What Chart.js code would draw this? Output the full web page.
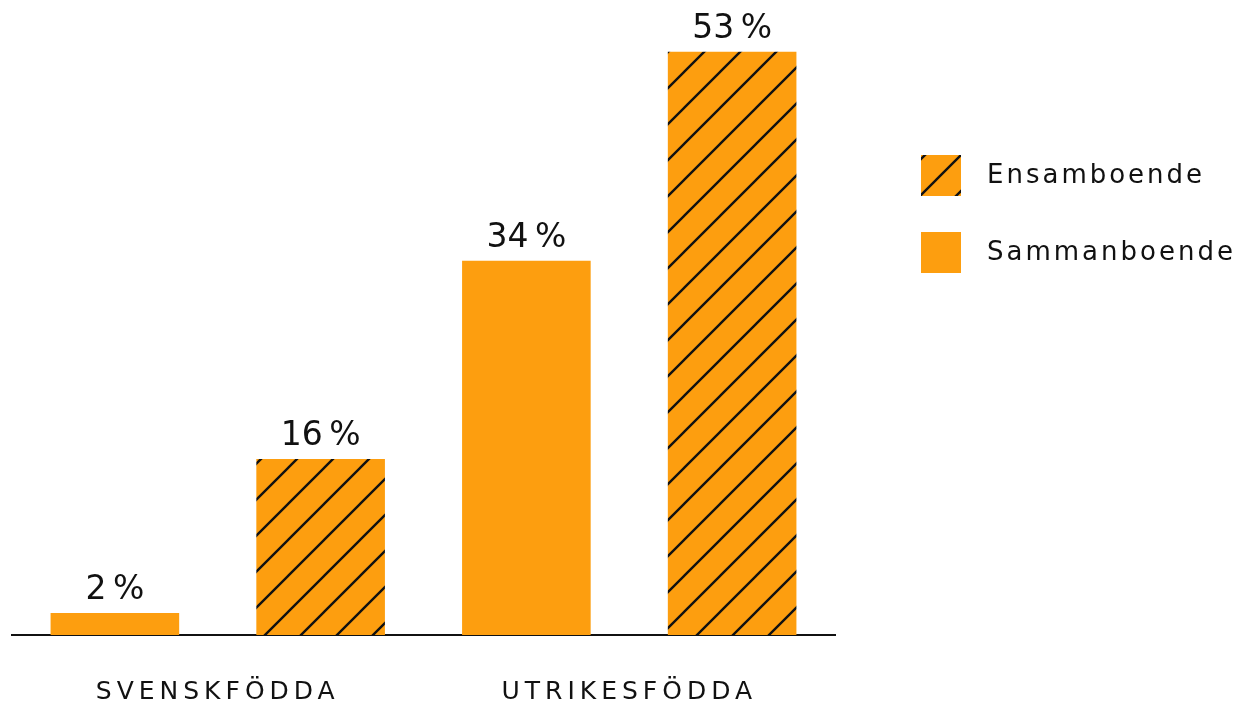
<!DOCTYPE html>
<html>
<head>
<meta charset="utf-8">
<script src="https://cdn.jsdelivr.net/npm/chart.js@4.4.0/dist/chart.umd.min.js"></script>
<style>
html,body{margin:0;padding:0;background:#fff;}
#wrap{width:1238px;height:705px;position:relative;}
</style>
</head>
<body>
<div id="wrap"><canvas id="c" width="1238" height="705"></canvas></div>
<script>
const categories = ['SVENSKFÖDDA', 'UTRIKESFÖDDA'];
const sammanboende = [2, 34];
const ensamboende = [16, 53];
const seriesNames = ['Sammanboende', 'Ensamboende'];

const ORANGE = '#FD9E0F';
const FONT = '"DejaVu Sans", sans-serif';

function makeHatch() {
  const s = 36;
  const pc = document.createElement('canvas');
  pc.width = s; pc.height = s;
  const g = pc.getContext('2d');
  g.fillStyle = ORANGE;
  g.fillRect(0, 0, s, s);
  g.strokeStyle = '#111';
  g.lineWidth = 2.4;
  g.beginPath();
  g.moveTo(-4, s + 4); g.lineTo(s + 4, -4);
  g.moveTo(-4, 4); g.lineTo(4, -4);
  g.moveTo(s - 4, s + 4); g.lineTo(s + 4, s - 4);
  g.stroke();
  return g.createPattern(pc, 'repeat');
}
const hatch = makeHatch();

const spacingPlugin = {
  id: 'spacing',
  beforeDraw(chart) { chart.ctx.letterSpacing = '5px'; }
};

const labelPlugin = {
  id: 'barLabels',
  afterDatasetsDraw(chart) {
    const ctx = chart.ctx;
    ctx.save();
    ctx.letterSpacing = '0px';
    ctx.font = '33px ' + FONT;
    ctx.fillStyle = '#111';
    ctx.textAlign = 'center';
    ctx.textBaseline = 'alphabetic';
    chart.data.datasets.forEach((ds, di) => {
      chart.getDatasetMeta(di).data.forEach((bar, i) => {
        ctx.fillText(ds.data[i] + '\u2009%', bar.x, bar.y - 14);
      });
    });
    ctx.restore();
  }
};

const legendPlugin = {
  id: 'customLegend',
  afterDraw(chart) {
    const ctx = chart.ctx;
    ctx.save();
    ctx.letterSpacing = '3px';
    ctx.font = '26px ' + FONT;
    ctx.fillStyle = '#111';
    ctx.textBaseline = 'middle';
    ctx.textAlign = 'left';
    const items = [
      { name: chart.data.datasets[1].label, fill: chart.data.datasets[1].backgroundColor, y: 155 },
      { name: chart.data.datasets[0].label, fill: chart.data.datasets[0].backgroundColor, y: 232 }
    ];
    items.forEach(it => {
      ctx.fillStyle = it.fill;
      ctx.fillRect(921, it.y, 40, 41);
      ctx.fillStyle = '#111';
      ctx.fillText(it.name, 987, it.y + 21);
    });
    ctx.restore();
  }
};

new Chart(document.getElementById('c'), {
  type: 'bar',
  data: {
    labels: categories,
    datasets: [
      { label: seriesNames[0], data: sammanboende, backgroundColor: ORANGE },
      { label: seriesNames[1], data: ensamboende, backgroundColor: hatch }
    ]
  },
  options: {
    responsive: false,
    animation: false,
    devicePixelRatio: 1,
    layout: { padding: { left: 12, right: 403, top: 0, bottom: 0 } },
    datasets: { bar: { categoryPercentage: 1.0, barPercentage: 0.625 } },
    plugins: { legend: { display: false }, tooltip: { enabled: false } },
    scales: {
      y: { display: false, min: 0, max: 57.7 },
      x: {
        grid: { display: false, drawTicks: false },
        border: { display: true, color: '#111', width: 2 },
        ticks: { color: '#111', font: { family: FONT, size: 25 }, padding: 42, maxRotation: 0 },
        afterFit(scale) { scale.height = 70; }
      }
    }
  },
  plugins: [spacingPlugin, labelPlugin, legendPlugin]
});
</script>
</body>
</html>
